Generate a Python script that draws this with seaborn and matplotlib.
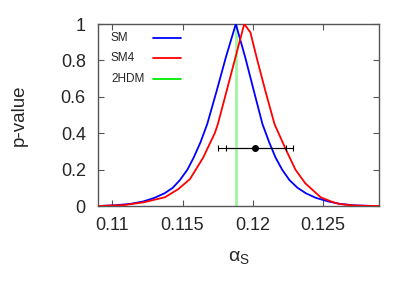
import numpy as np
import pandas as pd
import matplotlib
matplotlib.use("Agg")
import matplotlib.pyplot as plt
import seaborn as sns

# SM curve (blue)
sm_x = [0.1092, 0.1102, 0.1113, 0.1122, 0.1130, 0.11372, 0.11430, 0.11482, 0.11535, 0.11580,
        0.11628, 0.11676, 0.11744, 0.11809, 0.1188, 0.11947, 0.12008, 0.12070, 0.12118,
        0.12163, 0.12210, 0.12262, 0.12320, 0.12380, 0.12450, 0.12540, 0.1262, 0.1272, 0.1283]
sm_p = [0.001, 0.004, 0.012, 0.025, 0.045, 0.07, 0.10, 0.143, 0.20, 0.267,
        0.35, 0.45, 0.634, 0.817, 1.0, 0.817, 0.634, 0.45, 0.35,
        0.267, 0.20, 0.143, 0.10, 0.07, 0.045, 0.025, 0.012, 0.004, 0.001]

# SM4 curve (red)
sm4_x = [0.109, 0.1108, 0.1122, 0.11374, 0.1147, 0.11553, 0.11648, 0.11668, 0.11730,
         0.11752, 0.11815, 0.11940, 0.11984, 0.12028, 0.12090, 0.12156, 0.12233, 0.12305,
         0.12375, 0.12485, 0.1257, 0.1262, 0.1272, 0.1282, 0.129]
sm4_p = [0.0, 0.005, 0.02, 0.048, 0.093, 0.148, 0.267, 0.30, 0.40,
         0.45, 0.634, 1.0, 0.954, 0.817, 0.634, 0.45, 0.317, 0.20,
         0.125, 0.048, 0.022, 0.011, 0.003, 0.001, 0.0]

# 2HDM value (vertical line)
hdm_x = 0.1188

# measurement with errors
meas_x = 0.1202
meas_y = 0.32
err_inner = (0.1181, 0.12235)
err_outer = (0.1175, 0.1229)

xticks = [0.11, 0.115, 0.12, 0.125]
xticklabels = ["0.11", "0.115", "0.12", "0.125"]
yticks = [0, 0.2, 0.4, 0.6, 0.8, 1.0]
yticklabels = ["0", "0.2", "0.4", "0.6", "0.8", "1"]

sns.set_style("ticks")
plt.rcParams["font.family"] = ["Liberation Sans", "DejaVu Sans"]
plt.rcParams["mathtext.fontset"] = "custom"
plt.rcParams["mathtext.rm"] = "Liberation Sans"
plt.rcParams["mathtext.it"] = "Liberation Sans"

fig = plt.figure(figsize=(4.15, 2.91), dpi=100)
ax = fig.add_axes([0.237, 0.292, 0.913 - 0.237, 0.9175 - 0.292])

df_sm = pd.DataFrame({"x": sm_x, "p": sm_p})
df_sm4 = pd.DataFrame({"x": sm4_x, "p": sm4_p})

ax.axvline(hdm_x, ymin=0, ymax=1, color="#a0f5a0", lw=2.0, zorder=1)
sns.lineplot(data=df_sm, x="x", y="p", ax=ax, color="#0000ff", lw=1.3, sort=False, zorder=3)
sns.lineplot(data=df_sm4, x="x", y="p", ax=ax, color="#ff0000", lw=1.3, sort=False, zorder=3)

ax.errorbar([meas_x], [meas_y],
            xerr=[[meas_x - err_outer[0]], [err_outer[1] - meas_x]],
            fmt="o", color="black", ms=4, elinewidth=0.8, capsize=2.5, capthick=0.8, zorder=5)
ax.errorbar([meas_x], [meas_y],
            xerr=[[meas_x - err_inner[0]], [err_inner[1] - meas_x]],
            fmt="none", ecolor="black", elinewidth=0.8, capsize=2.5, capthick=0.8, zorder=5)

ax.set_xlim(0.109, 0.129)
ax.set_ylim(0, 1)
ax.set_xticks(xticks)
ax.set_xticklabels(xticklabels)
ax.set_yticks(yticks)
ax.set_yticklabels(yticklabels)
ax.tick_params(direction="in", length=4, width=0.8, color="#555555",
               top=True, right=True, labelsize=13, pad=8)
ax.tick_params(axis="y", pad=9)
for s in ax.spines.values():
    s.set_color("#555555")
    s.set_linewidth(1.0)

ax.set_xlabel(r"$\mathregular{\alpha_S}$", fontsize=14, labelpad=11)
ax.set_ylabel("p-value", fontsize=13.5, labelpad=24)

# legend (gnuplot style: text left, sample right)
entries = [("SM", "#0000ff"), ("SM4", "#ff0000"), ("2HDM", "#00ee00")]
for i, (lab, col) in enumerate(entries):
    yy = 0.925 - i * 0.113
    ax.text(0.045, yy, lab, transform=ax.transAxes, fontsize=8.5, va="center", ha="left")
    ax.plot([0.195, 0.293], [yy, yy], transform=ax.transAxes, color=col, lw=1.3)

fig.savefig("out.png", dpi=100)
